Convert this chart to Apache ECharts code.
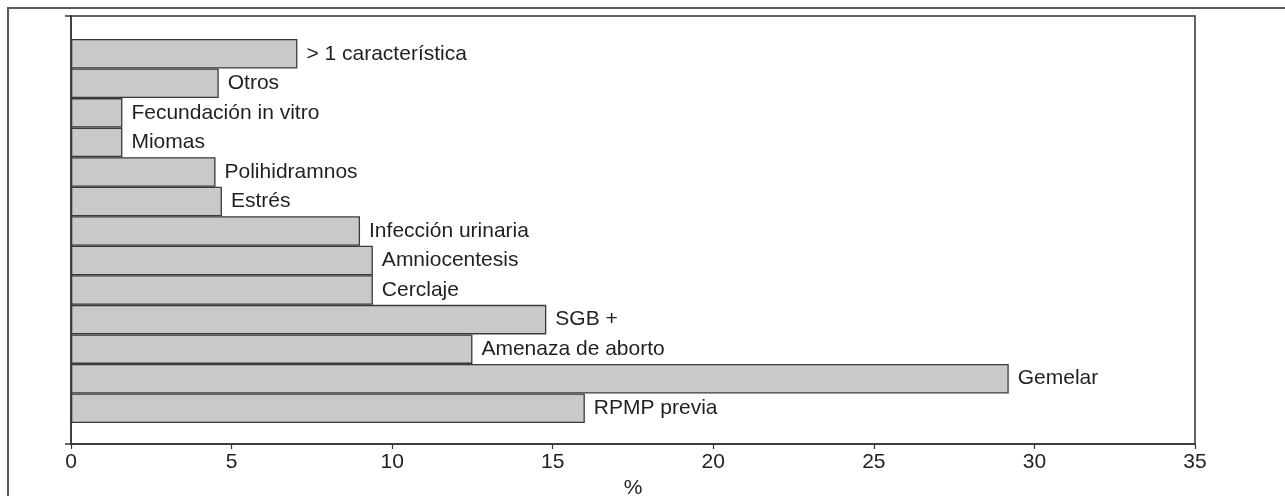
<!DOCTYPE html>
<html>
<head>
<meta charset="utf-8">
<script src="https://cdn.jsdelivr.net/npm/echarts@6/dist/echarts.min.js"></script>
<style>
    body { margin: 0; background: #fff; }
    #frame {
        position: absolute; left: 7px; top: 7px; width: 1300px; height: 520px;
        border-top: 2px solid #5a5a5a; border-left: 2px solid #5a5a5a;
    }
    #chart { position: absolute; left: 0; top: 0; width: 1285px; height: 496px; }
</style>
</head>
<body>
<div id="frame"></div>
<div id="chart"></div>
<script>
// categorias de arriba a abajo
const categories = [
    '> 1 característica', 'Otros', 'Fecundación in vitro', 'Miomas', 'Polihidramnos',
    'Estrés', 'Infección urinaria', 'Amniocentesis', 'Cerclaje', 'SGB +',
    'Amenaza de aborto', 'Gemelar', 'RPMP previa'
]
const values = [7.05, 4.6, 1.6, 1.6, 4.5, 4.7, 9.0, 9.4, 9.4, 14.8, 12.5, 29.2, 16.0]
const xMin = 0
const xMax = 35
const xStep = 5
const xName = '%'

const font = '"Liberation Sans", Arial, Helvetica, sans-serif'
const ink = '#231f20'
const lineColor = '#333'

let myChart = echarts.init(document.getElementById('chart'))
myChart.setOption({
    animation: false,
    grid: [
        // barras
        { left: 71, top: 39, width: 1124, height: 384, outerBoundsMode: 'none' },
        // marco y ejes
        { left: 71, top: 16, width: 1124, height: 428, outerBoundsMode: 'none', show: true, borderColor: lineColor, borderWidth: 1.5, backgroundColor: 'transparent' }
    ],
    xAxis: [
        { gridIndex: 0, type: 'value', min: xMin, max: xMax, show: false },
        {
            gridIndex: 1, type: 'value', min: xMin, max: xMax, interval: xStep,
            name: xName, nameLocation: 'middle', nameGap: 33,
            nameTextStyle: { fontSize: 21, color: ink, fontFamily: font },
            axisLine: { show: true, lineStyle: { color: lineColor, width: 1.5 } },
            axisTick: { show: true, length: 5, lineStyle: { color: lineColor, width: 1.2 } },
            axisLabel: { fontSize: 21, color: ink, fontFamily: font, margin: 8 },
            splitLine: { show: false }
        }
    ],
    yAxis: [
        { gridIndex: 0, type: 'category', data: categories, inverse: true, show: false },
        {
            gridIndex: 1, type: 'value', min: 0, max: 1, interval: 1,
            axisLine: { show: true, lineStyle: { color: lineColor, width: 1.5 } },
            axisTick: { show: true, length: 6, lineStyle: { color: lineColor, width: 1.5 } },
            axisLabel: { show: false },
            splitLine: { show: false }
        }
    ],
    series: [{
        type: 'bar',
        xAxisIndex: 0,
        yAxisIndex: 0,
        data: values,
        barCategoryGap: 0,
        itemStyle: { color: '#c8c9cb', borderColor: '#3a3a3a', borderWidth: 1.3 },
        label: {
            show: true,
            position: 'right',
            distance: 9,
            formatter: (p) => categories[p.dataIndex],
            fontSize: 21,
            color: ink,
            fontFamily: font
        }
    }]
})
</script>
</body>
</html>
